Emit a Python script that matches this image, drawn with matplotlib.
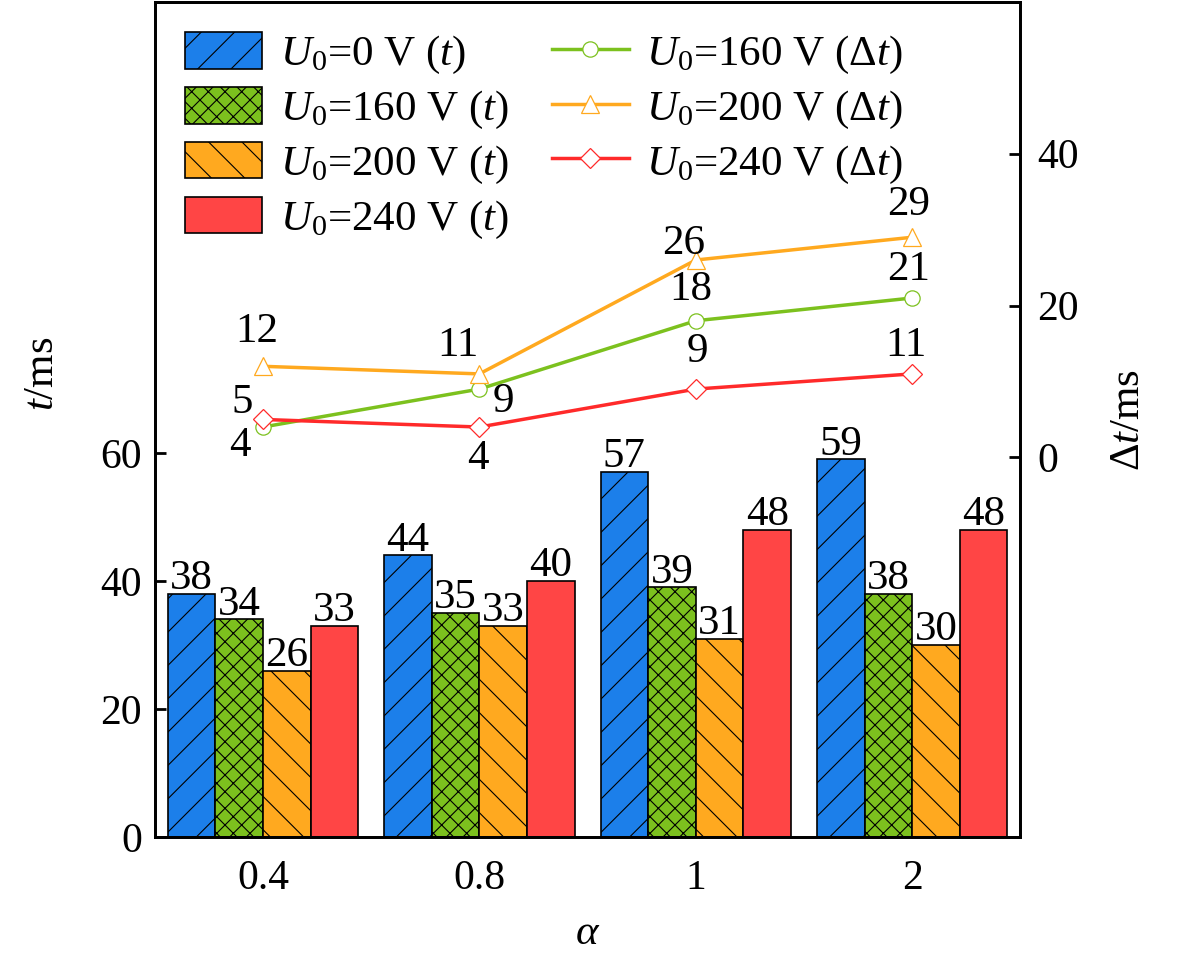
import matplotlib
matplotlib.use('Agg')
import matplotlib.pyplot as plt
import numpy as np

plt.rcParams['font.family'] = ['Liberation Serif', 'DejaVu Serif']
plt.rcParams['mathtext.fontset'] = 'custom'
plt.rcParams['mathtext.rm'] = 'Liberation Serif'
plt.rcParams['mathtext.it'] = 'Liberation Serif:italic'
plt.rcParams['hatch.linewidth'] = 0.8

# data
alpha_labels = ['0.4', '0.8', '1', '2']
t_0v = [38, 44, 57, 59]
t_160v = [34, 35, 39, 38]
t_200v = [26, 33, 31, 30]
t_240v = [33, 40, 48, 48]
dt_160v = [4, 9, 18, 21]
dt_200v = [12, 11, 26, 29]
dt_240v = [5, 4, 9, 11]

bar_colors = ['#1C7FEA', '#7CC11E', '#FFA91F', '#FF4545']
bar_hatches = ['/', 'xx', '\\', '']
line_colors = ['#7CC11E', '#FFA91F', '#FF2A2A']
FS = 31

fig = plt.figure(figsize=(11.81, 9.56), dpi=100)
ax = fig.add_axes([0.131, 0.1245, 0.733, 0.8735])
ax2 = ax.twinx()

x = np.arange(len(alpha_labels))
w = 0.22
series = [t_0v, t_160v, t_200v, t_240v]
names = ['0', '160', '200', '240']
bars = []
for i, vals in enumerate(series):
    b = ax.bar(x + (i - 1.5) * w, vals, w, color=bar_colors[i], edgecolor='black',
               hatch=bar_hatches[i], linewidth=1.2,
               label='$U_0$=%s V ($t$)' % names[i])
    ax.bar_label(b, padding=-3, fontsize=FS)
    bars.append(b)

ax.set_xlim(-0.5, 3.5)
ax.set_ylim(0, 130.5)
ax.set_yticks([0, 20, 40, 60])
ax.set_xticks(x)
ax.set_xticklabels(alpha_labels)
ax.tick_params(axis='both', labelsize=FS - 1, direction='in', width=2, length=8)
ax.tick_params(axis='y', pad=9)
ax.tick_params(axis='x', length=0, pad=16)
ax.set_xlabel(r'$\alpha$', fontsize=FS, labelpad=12)
ax.set_ylabel('$t$/ms', fontsize=FS, y=0.555, labelpad=28)

ax2.set_ylim(-50, 60)
ax2.set_yticks([0, 20, 40])
ax2.tick_params(axis='y', labelsize=FS - 1, direction='in', width=2, length=8, pad=12)
ax2.set_ylabel(r'$\Delta t$/ms', fontsize=FS, y=0.5, labelpad=22)

for a in (ax, ax2):
    for s in a.spines.values():
        s.set_linewidth(2)

lines_data = [dt_160v, dt_200v, dt_240v]
markers = ['o', '^', 'D']
msizes = [11, 13, 10]
lines = []
for i, vals in enumerate(lines_data):
    l, = ax2.plot(x, vals, color=line_colors[i], linewidth=2.5, marker=markers[i],
                  markersize=msizes[i], markerfacecolor='white',
                  markeredgecolor=line_colors[i], markeredgewidth=0.9,
                  label='$U_0$=%s V ($\\Delta t$)' % names[i + 1])
    lines.append(l)

# value labels for the lines (pixel offsets from each marker)
offs = [
    [(-23, -19), (24, -13), (-5, 31), (-4, 28)],
    [(-6, 35), (-21, 28), (-12, 16), (-4, 32)],
    [(-21, 17), (-1, -32), (2, 37), (-6, 28)],
]
for i, vals in enumerate(lines_data):
    for j, v in enumerate(vals):
        ax2.annotate(str(v), (x[j], v), xytext=offs[i][j], textcoords='offset pixels',
                     ha='center', va='center', fontsize=FS)

handles = bars + lines
labels = [h.get_label() for h in handles]
ax.legend(handles, labels, loc='upper left', ncol=2, frameon=False, fontsize=FS,
          bbox_to_anchor=(0.0, 1.0), handlelength=1.8, handleheight=0.93,
          handletextpad=0.4, columnspacing=1.0, labelspacing=0.25, borderaxespad=0.3)

fig.savefig('out.png', dpi=100)
